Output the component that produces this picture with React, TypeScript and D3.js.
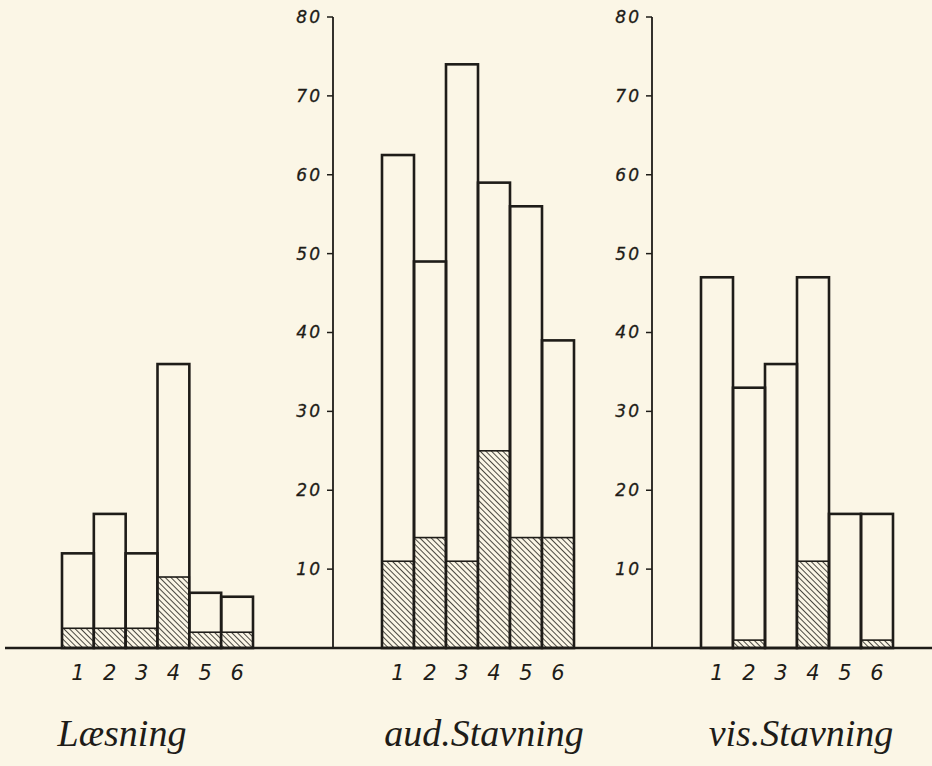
import React from "react";
import * as d3 from "d3";

const categories = ["1", "2", "3", "4", "5", "6"];
const panelTitles = ["Læsning", "aud.Stavning", "vis.Stavning"];
const laesningTotal = [12, 17, 12, 36, 7, 6.5];
const laesningHatched = [2.5, 2.5, 2.5, 9, 2, 2];
const audTotal = [62.5, 49, 74, 59, 56, 39];
const audHatched = [11, 14, 11, 25, 14, 14];
const visTotal = [47, 33, 36, 47, 17, 17];
const visHatched = [0, 1, 0, 11, 0, 1];
const yTicks = [10, 20, 30, 40, 50, 60, 70, 80];

const W = 932;
const H = 766;
const BASE = 648;
const TOP = 17;
const INK = "#1e1c18";
const BG = "#fbf6e6";

const panels = [
  { title: panelTitles[0], total: laesningTotal, hatched: laesningHatched, x0: 62, x1: 253, axisX: null as number | null, titleX: 122 },
  { title: panelTitles[1], total: audTotal, hatched: audHatched, x0: 382, x1: 574, axisX: 333, titleX: 484 },
  { title: panelTitles[2], total: visTotal, hatched: visHatched, x0: 701, x1: 893, axisX: 652, titleX: 801 },
];

export default function App() {
  const y = d3.scaleLinear().domain([0, 80]).range([BASE, TOP]);
  const numFont = "'DejaVu Sans', sans-serif";
  const titleFont = "'Liberation Serif', serif";
  return (
    <svg width={W} height={H} style={{ position: "fixed", left: 0, top: 0, background: BG }}>
      <defs>
        <pattern id="hatch" patternUnits="userSpaceOnUse" width="4" height="4" patternTransform="rotate(-45)">
          <rect width="4" height="4" fill={BG} />
          <line x1="0" y1="0" x2="0" y2="4" stroke={INK} strokeWidth="1.6" />
        </pattern>
      </defs>
      <rect x={0} y={0} width={W} height={H} fill={BG} />
      {panels.map((p, pi) => {
        const x = d3.scaleBand<string>().domain(categories).range([p.x0, p.x1]).paddingInner(0).paddingOuter(0);
        return (
          <g key={pi}>
            {p.axisX !== null && (
              <g>
                <line x1={p.axisX} x2={p.axisX} y1={y(80)} y2={BASE} stroke={INK} strokeWidth={1.8} />
                {yTicks.map((t) => (
                  <g key={t}>
                    <line x1={p.axisX! - 6} x2={p.axisX!} y1={y(t)} y2={y(t)} stroke={INK} strokeWidth={1.5} />
                    <text
                      x={p.axisX! - 11}
                      y={y(t)}
                      dy="0.35em"
                      textAnchor="end"
                      fontFamily={numFont}
                      fontStyle="italic"
                      fontSize={17}
                      fill={INK}
                      stroke={INK}
                      strokeWidth={0.3}
                      letterSpacing={2}
                    >
                      {t}
                    </text>
                  </g>
                ))}
              </g>
            )}
            {categories.map((c, i) => (
              <g key={c}>
                {p.hatched[i] > 0 && (
                  <rect
                    x={x(c)!}
                    y={y(p.hatched[i])}
                    width={x.bandwidth()}
                    height={BASE - y(p.hatched[i])}
                    fill="url(#hatch)"
                    stroke={INK}
                    strokeWidth={1.6}
                  />
                )}
                <rect
                  x={x(c)!}
                  y={y(p.total[i])}
                  width={x.bandwidth()}
                  height={BASE - y(p.total[i])}
                  fill="none"
                  stroke={INK}
                  strokeWidth={2.6}
                />
                <text
                  x={x(c)! + x.bandwidth() / 2}
                  y={673}
                  dy="0.35em"
                  textAnchor="middle"
                  fontFamily={numFont}
                  fontStyle="italic"
                  fontSize={21}
                  fill={INK}
                >
                  {c}
                </text>
              </g>
            ))}
            <text
              x={p.titleX}
              y={746}
              textAnchor="middle"
              fontFamily={titleFont}
              fontStyle="italic"
              fontSize={38}
              fill={INK}
            >
              {p.title}
            </text>
          </g>
        );
      })}
      <line x1={5} x2={W} y1={BASE} y2={BASE} stroke={INK} strokeWidth={2.4} />
    </svg>
  );
}
